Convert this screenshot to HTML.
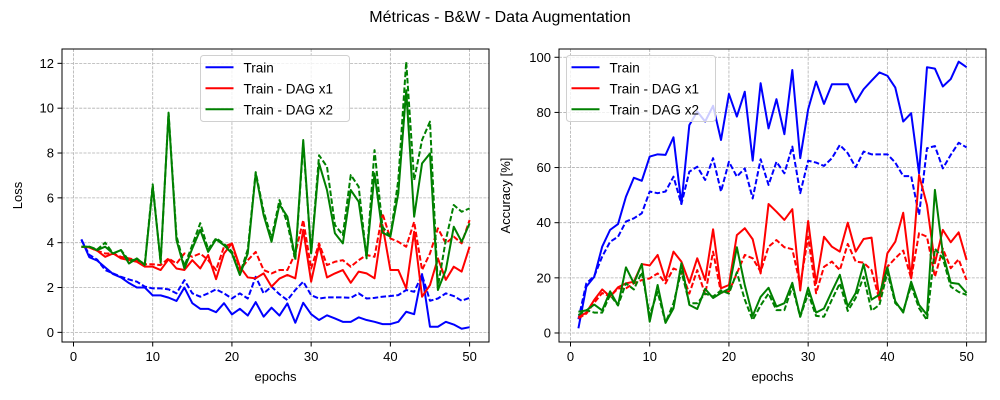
<!DOCTYPE html>
<html><head><meta charset="utf-8"><style>
body{margin:0;background:#fff;}
svg{display:block;font-family:"Liberation Sans",sans-serif;}
</style></head><body>
<svg id="fig" width="1000" height="400">
<rect width="1000" height="400" fill="#fff"/>
<text x="500" y="22" text-anchor="middle" font-size="16">Métricas - B&amp;W - Data Augmentation</text>
</svg>
<script>
const epochs = Array.from({length:50},(_,i)=>i+1);
const lossTrain = [4.15,3.35,3.2,2.9,2.6,2.45,2.2,2.0,2.0,1.65,1.65,1.55,1.4,2.0,1.3,1.05,1.05,0.9,1.3,0.8,1.05,0.75,1.35,0.7,1.1,0.75,1.29,0.43,1.32,0.81,0.55,0.76,0.62,0.47,0.47,0.67,0.55,0.47,0.37,0.37,0.47,0.92,0.81,2.6,0.25,0.25,0.47,0.35,0.16,0.23];
const lossVal = [4.12,3.46,3.24,2.78,2.63,2.48,2.36,2.26,2.04,1.96,1.96,1.92,1.74,2.33,1.74,1.59,1.74,1.92,1.74,1.51,1.74,1.51,2.48,1.74,2.04,1.7,1.44,1.89,2.26,1.66,1.51,1.56,1.56,1.56,1.54,1.74,1.51,1.54,1.59,1.62,1.66,1.89,1.81,2.56,1.41,1.51,1.74,1.62,1.41,1.54];
const lossDag1 = [3.82,3.79,3.64,3.37,3.52,3.3,3.22,3.15,2.93,2.93,2.78,3.26,2.85,2.78,3.22,2.85,3.45,2.37,3.52,3.97,2.93,2.45,2.41,2.63,2.04,2.4,2.56,2.41,4.57,2.26,3.89,2.45,2.63,2.78,2.21,2.71,2.63,2.41,4.79,2.78,2.78,1.96,4.49,1.59,2.11,3.3,2.34,2.93,2.71,3.82];
const lossDag1Val = [3.82,3.79,3.64,3.52,3.52,3.37,3.3,3.22,3.04,3.04,3.0,3.3,3.07,3.52,3.37,3.52,3.22,2.78,3.82,3.97,2.78,3.22,3.59,2.78,2.63,2.78,2.78,3.52,5.01,2.85,3.97,3.0,3.15,3.22,2.93,3.22,3.45,3.37,5.31,4.19,4.04,3.82,4.93,2.78,3.52,4.64,3.97,4.27,3.97,5.01];
const lossDag2 = [3.82,3.82,3.67,3.82,3.52,3.67,3.07,3.3,3.0,6.5,3.15,9.77,4.12,2.85,3.74,4.57,3.59,4.15,3.89,3.52,2.56,3.52,7.09,5.23,4.04,5.7,5.16,3.3,8.58,3.52,7.54,6.35,4.42,3.97,6.35,5.83,3.37,7.09,4.45,4.27,6.2,10.8,5.16,7.54,7.98,1.89,2.78,4.71,4.04,4.86];
const lossDag2Val = [3.82,3.82,3.7,4.0,3.52,3.67,3.2,3.25,3.05,6.6,3.1,9.8,4.3,2.95,3.9,4.87,3.7,4.2,3.95,3.6,2.6,3.7,7.15,5.4,4.2,5.9,4.86,3.22,8.43,3.52,7.9,7.39,4.79,4.34,7.02,6.5,3.3,8.13,4.71,4.27,6.79,12.07,6.79,8.58,9.4,2.04,4.12,5.68,5.38,5.53];
const accTrain = [1.7,16.8,20.4,31.3,37.4,39.5,49.4,56.3,55.2,64,64.8,64.6,71,46.8,75.4,80.3,76.7,82.4,70,86.7,78.5,87.5,62.5,90.6,74.2,84.8,72.1,95.4,63.4,81.1,91.2,83.1,90.2,90.2,90.2,83.7,88.4,91.5,94.5,93.3,89,76.7,79.7,57.9,96.4,95.9,89.4,92.1,98.4,96.4];
const accVal = [5,18,20.6,27.7,33.1,34.9,40.4,41.6,43.4,51.3,50.7,51.3,56.7,46.8,58.5,60.3,55.5,63.4,51.3,62.1,56.7,59.7,48.8,63,53.7,62.1,57.9,67.6,50.7,62.5,61.8,60.6,63.4,68.2,65.2,60.1,65.8,64.8,64.8,64.8,61.8,56.9,56.9,42.8,67,67.8,59.7,64.6,69,67.3];
const accDag1 = [5.7,7.4,12,15.8,13.2,16.6,18,18.6,25,24.5,28.3,19.2,29.5,25.9,18.2,27.1,19.2,37.6,16.2,17.4,35.5,38,34,21.6,46.8,44,41,44.9,15.4,40.6,18,34.9,31.3,29.5,40,29.5,34.1,34.6,12,28.9,33.1,43.6,19.8,57.3,46.4,25.3,37.4,32.9,36.5,26.5];
const accDag1Val = [5.3,7,11,14.5,13.2,16.2,16.2,18,19.2,19.8,21.6,18,23.4,22.2,14.3,22.8,14,29.5,14.6,15,21.6,28.3,27.1,22.2,31.3,33.7,31.1,30.4,17.4,34.9,14.4,24,25.9,22.8,32.3,25.9,25.5,22.8,12,24,27.1,29.9,19.8,36.2,34.9,20.4,30.6,23.5,26.7,19.2];
const accDag2 = [7.7,8.2,10.3,8.2,15.1,10,23.8,18,25,4.1,17.4,3.7,8.9,25.3,10.2,8.7,16,12.7,14.5,16,31.1,17.4,6.2,13.1,16.4,9.6,10.8,18.2,5.9,16.4,7.4,8.9,15.1,21.1,9.6,14.5,25,12.1,13.9,23.8,11.5,7.4,18.6,10.2,6.6,51.9,28.9,18.2,17.8,14.5];
const accDag2Val = [6.5,8.3,7.4,7.4,13.8,10,18,15.8,22,6.5,14.9,3.7,10.8,22.4,10.8,10.8,14.3,13.2,15.4,14.3,22,12.1,4.7,10,14.3,8.3,8.3,16.8,5.9,14.3,6.2,5.9,12.1,18,8,12.7,20.4,8.1,10.2,22,10.8,8,17.2,9,4.7,30.6,27.1,16.8,14.9,13.8];
const xTicks = [0,10,20,30,40,50];
const lossTicks = [0,2,4,6,8,10,12];
const accTicks = [0,20,40,60,80,100];
const legendLabels = ["Train","Train - DAG x1","Train - DAG x2"];
const colors = ["#0000ff","#ff0000","#008000"];

const NS="http://www.w3.org/2000/svg";
const svg=document.getElementById('fig');
function mk(tag,attrs,parent){const e=document.createElementNS(NS,tag);for(const k in attrs)e.setAttribute(k,attrs[k]);(parent||svg).appendChild(e);return e;}

function panel(cfg){
  const {L,R,T,B,ymin,ymax,yTicks,series,ylabel,ylabelX,legendX,name}=cfg;
  const g=mk('g',{});
  
  
  const xs=e=>L+(e-(-1.45))/(53.9)*(R-L);
  const ys=v=>B-(v-ymin)/(ymax-ymin)*(B-T);
  xTicks.forEach(t=>{
    const l=mk('line',{x1:xs(t),x2:xs(t),y1:T,y2:B,stroke:'#b0b0b0','stroke-width':0.8,'stroke-dasharray':'3,1.3'},g);
    
    
    const tk=mk('line',{x1:xs(t),x2:xs(t),y1:B,y2:B+4.5,stroke:'#000','stroke-width':1},g);
    
    
    const tx=mk('text',{x:xs(t),y:B+19,'text-anchor':'middle','font-size':13},g);
    tx.textContent=t;
    
    
  });
  yTicks.forEach(t=>{
    const l=mk('line',{x1:L,x2:R,y1:ys(t),y2:ys(t),stroke:'#b0b0b0','stroke-width':0.8,'stroke-dasharray':'3,1.3'},g);
    
    
    const tk=mk('line',{x1:L-4.5,x2:L,y1:ys(t),y2:ys(t),stroke:'#000','stroke-width':1},g);
    
    
    const tx=mk('text',{x:L-8,y:ys(t)+4.5,'text-anchor':'end','font-size':13},g);
    tx.textContent=t;
    
    
  });
  series.forEach(s=>{
    const d=s.data.map((v,i)=>(i?'L':'M')+xs(epochs[i]).toFixed(2)+','+ys(v).toFixed(2)).join(' ');
    const a={d:d,fill:'none',stroke:s.color,'stroke-width':2,'stroke-linejoin':'round'};
    if(s.dash)a['stroke-dasharray']='5.5,2.4';
    const p=mk('path',a,g);
    
    
  });
  const fr=mk('rect',{x:L,y:T,width:R-L,height:B-T,fill:'none',stroke:'#000','stroke-width':1},g);
  
  
  const xl=mk('text',{x:(L+R)/2,y:381,'text-anchor':'middle','font-size':13},g);
  xl.textContent='epochs';
  
  
  const yl=mk('text',{x:ylabelX,y:(T+B)/2,'text-anchor':'middle','font-size':13,transform:`rotate(-90 ${ylabelX} ${(T+B)/2})`},g);
  yl.textContent=ylabel;
  
  
  const lg=mk('g',{},g);
  
  
  const lb=mk('rect',{x:legendX,y:55.5,width:149,height:66,rx:3,fill:'#fff','fill-opacity':0.8,stroke:'#d0d0d0','stroke-width':1},lg);
  
  
  legendLabels.forEach((lab,i)=>{
    const y=67.3+i*21;
    const ln=mk('line',{x1:legendX+5,x2:legendX+33,y1:y,y2:y,stroke:colors[i],'stroke-width':2},lg);
    
    
    const t=mk('text',{x:legendX+43,y:y+5,'font-size':13.5},lg);
    t.textContent=lab;
    
    
  });
}

panel({name:'loss-chart',L:62,R:489,T:49,B:342,ymin:-0.43,ymax:12.64,yTicks:lossTicks,ylabel:'Loss',ylabelX:22,legendX:200.5,
  series:[
    {name:'loss-train-line',data:lossTrain,color:colors[0]},
    {name:'loss-train-val-line',data:lossVal,color:colors[0],dash:true},
    {name:'loss-dag-x1-line',data:lossDag1,color:colors[1]},
    {name:'loss-dag-x1-val-line',data:lossDag1Val,color:colors[1],dash:true},
    {name:'loss-dag-x2-line',data:lossDag2,color:colors[2]},
    {name:'loss-dag-x2-val-line',data:lossDag2Val,color:colors[2],dash:true}
  ]});
panel({name:'accuracy-chart',L:559,R:986,T:49,B:342,ymin:-3.27,ymax:103.0,yTicks:accTicks,ylabel:'Accuracy [%]',ylabelX:510,legendX:566.5,
  series:[
    {name:'acc-train-line',data:accTrain,color:colors[0]},
    {name:'acc-train-val-line',data:accVal,color:colors[0],dash:true},
    {name:'acc-dag-x1-line',data:accDag1,color:colors[1]},
    {name:'acc-dag-x1-val-line',data:accDag1Val,color:colors[1],dash:true},
    {name:'acc-dag-x2-line',data:accDag2,color:colors[2]},
    {name:'acc-dag-x2-val-line',data:accDag2Val,color:colors[2],dash:true}
  ]});
</script>
</body></html>
